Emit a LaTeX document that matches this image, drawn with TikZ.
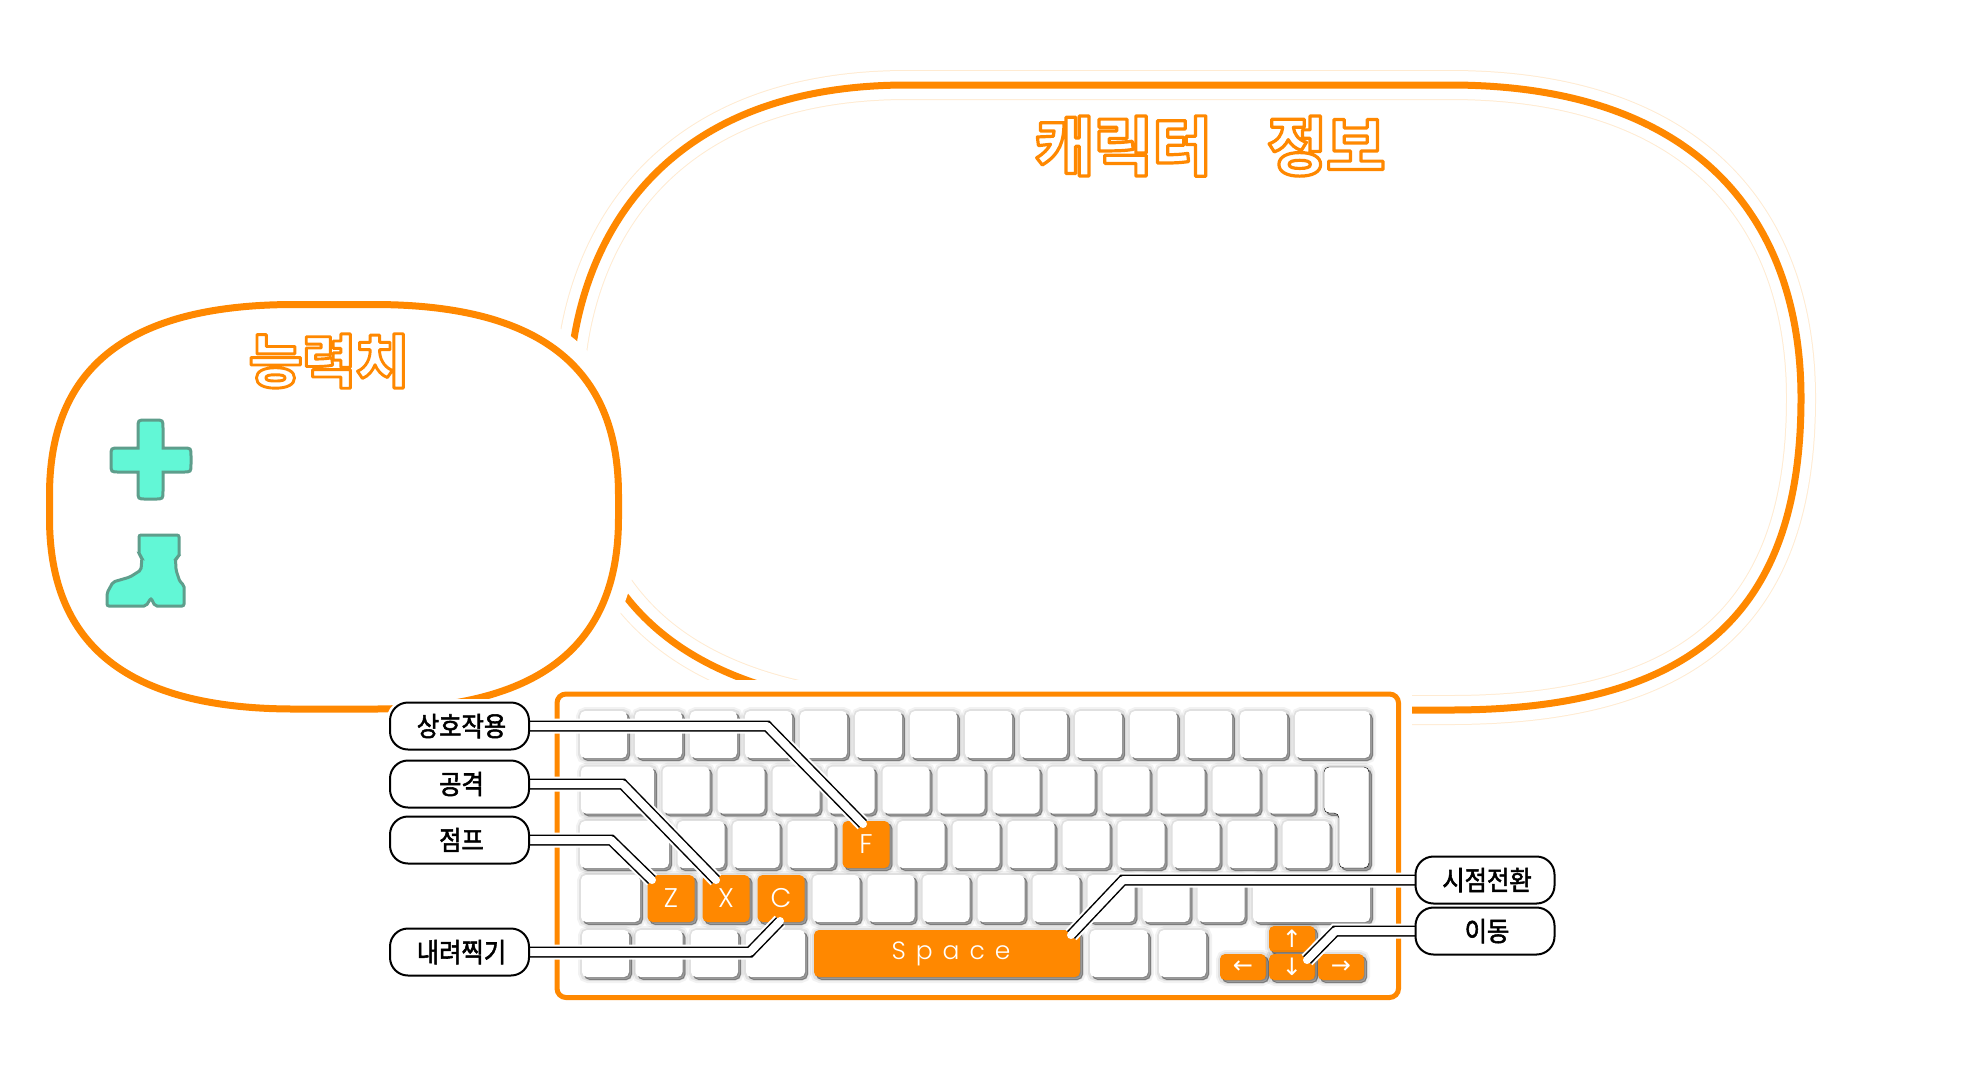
\documentclass[tikz,border=0pt]{standalone}
\usepackage{fontspec}
\usepackage{xcolor}
\usetikzlibrary{shadows}
\setmainfont{Poppins Light}
\newfontfamily\korfont[FakeStretch=0.9,FakeBold=2]{Noto Sans CJK KR}
\newfontfamily\korstroke[BoldFeatures={FakeBold=5}]{Noto Sans CJK KR}
\newfontfamily\arrowfont{DejaVu Sans}
\definecolor{keyorange}{HTML}{FF8800}
\definecolor{palehalo}{HTML}{FFEBD2}
\definecolor{iconfill}{HTML}{62F7D6}
\definecolor{iconline}{HTML}{5E9E8C}
\newcommand{\strokedtext}[1]{{\korstroke\bfseries\color{white}\special{pdf:code 1 0.533 0 RG 1 j}#1}}
\pgfdeclarelayer{linklayer}
\pgfdeclarelayer{taglayer}
\pgfsetlayers{main,linklayer,taglayer}
\tikzset{
    bigline/.style={keyorange, line width=7pt, preaction={draw=palehalo, line width=30pt}, preaction={draw=white, line width=28pt}},
    smallline/.style={draw=keyorange, fill=white, line width=7pt, preaction={draw=white, line width=40pt}},
    keyshade/.style={
        general shadow={shadow xshift=1pt, shadow yshift=-1pt, fill=black, draw=black, line width=10pt, opacity=.05},
        general shadow={shadow xshift=1pt, shadow yshift=-1pt, fill=black, draw=black, line width=6pt, opacity=.07},
        general shadow={shadow xshift=2.5pt, shadow yshift=-2.5pt, fill=black, draw=black, line width=1pt, opacity=.3}},
    keycap/.style={keyshade, fill=white, rounded corners=5pt, inner sep=0pt, outer sep=0pt, minimum width=47pt, minimum height=47pt},
    hotkey/.style={keycap, fill=keyorange, text=white, font=\fontsize{27}{27}\selectfont},
    arrowkey/.style={hotkey, minimum width=46pt, minimum height=26pt, font=\arrowfont\fontsize{24}{24}\selectfont},
    tag/.style={draw=black, fill=white, line width=2pt, rounded corners=18pt, inner sep=0pt, outer sep=0pt, minimum width=139pt, minimum height=47pt, text depth=2pt, font=\korfont\fontsize{27}{27}\selectfont},
    calline/.style={draw=white, line width=8pt, line cap=round, line join=round, preaction={draw=white, line width=15pt}, preaction={draw=black, line width=11pt}},
    icon/.style={draw=iconline, fill=iconfill, line width=3pt}
}
\begin{document}
\begin{tikzpicture}[x=1pt, y=-1pt]
    \useasboundingbox (0,0) rectangle (1980,1080);

    % Big panel, cut by the white area of the keyboard
    \draw[bigline] (907,85) -- (1450,85) .. controls (1700,85) and (1801,222) .. (1801,398) .. controls (1801,607) and (1700,710) .. (1450,710) -- (950,710) .. controls (658,710) and (569,581) .. (569,400) .. controls (569,260) and (646,85) .. (907,85) -- cycle;
    \fill[white] (540,680) rectangle (1412,1010);
    \node[font=\fontsize{64}{64}\selectfont] (infotitle) at (1210,146) {\strokedtext{캐릭터\hspace{56pt}정보}};

    % Small panel
    \draw[smallline] (294.5,304.5) -- (373.5,304.5) .. controls (549.5,304.5) and (618.5,375) .. (618.5,495) -- (618.5,518) .. controls (618.5,638) and (549.5,709) .. (373.5,709) -- (294.5,709) .. controls (118.5,709) and (49.5,638) .. (49.5,518) -- (49.5,495) .. controls (49.5,375) and (118.5,304.5) .. (294.5,304.5) -- cycle;
    \node[font=\fontsize{58}{58}\selectfont] (stattitle) at (329,361) {\strokedtext{능력치}};

    % Icons
    \draw[icon] (138,448) -- (138,428) .. controls (138,420) .. (146,420) -- (155,420) .. controls (163,420) .. (163,428) -- (163,448) -- (183,448) .. controls (191,448) .. (191,456) -- (191,464) .. controls (191,472) .. (183,472) -- (163,472) -- (163,491) .. controls (163,499) .. (155,499) -- (146,499) .. controls (138,499) .. (138,491) -- (138,472) -- (119,472) .. controls (111,472) .. (111,464) -- (111,456) .. controls (111,448) .. (119,448) -- cycle;
    \draw[icon, rounded corners=2pt] (139,535) -- (179,535) -- (179,557) -- (175.5,558) -- (176,570) -- (180,582) -- (184,585) -- (184,606) -- (155,606) -- (151,598) -- (146,606) -- (107,606) -- (107,593) -- (113,582) -- (130,577) -- (141,570) -- (142,557) -- (139,555) -- cycle;

    % Keyboard frame
    \draw[draw=keyorange, fill=white, line width=5pt, rounded corners=9pt] (557,694) rectangle (1398.5,997.5);

    % Row 1
    \foreach \i in {0,...,12} \node[keycap] (keyA\i) at ({603.5+55*\i},734.5) {};
    \node[keycap, minimum width=75pt] (keyAwide) at (1332.5,734.5) {};
    % Row 2
    \node[keycap, minimum width=73pt] (keyBwide) at (617.5,790) {};
    \foreach \i in {0,...,11} \node[keycap] (keyB\i) at ({686+55*\i},790) {};
    \draw[keycap] (1324,767) -- (1369,767) -- (1369,868) -- (1339,868) -- (1339,813) -- (1324,813) -- cycle;
    % Row 3
    \node[keycap, minimum width=89pt] (keyCwide) at (624.5,844.5) {};
    \foreach \i in {0,1,2,4,5,6,7,8,9,10,11} \node[keycap] (keyC\i) at ({701+55*\i},844.5) {};
    \node[hotkey] (keyF) at (866,844.5) {F};
    % Row 4
    \node[keycap, minimum width=59pt] (keyDwide) at (610.5,898.5) {};
    \node[hotkey] (keyZ) at (671,898.5) {Z};
    \node[hotkey] (keyX) at (726,898.5) {X};
    \node[hotkey] (keyC) at (781,898.5) {C};
    \foreach \i in {0,...,7} \node[keycap] (keyD\i) at ({836+55*\i},898.5) {};
    \node[keycap, minimum width=117pt] (keyDend) at (1311.5,898.5) {};
    % Row 5
    \node[keycap] (keyE0) at (605.5,953.5) {};
    \node[keycap] (keyE1) at (659,953.5) {};
    \node[keycap] (keyE2) at (714.5,953.5) {};
    \node[keycap, minimum width=59pt] (keyE3) at (775.5,953.5) {};
    \node[hotkey, minimum width=266pt, font=\fontsize{25}{25}\selectfont\addfontfeature{LetterSpace=40}] (keySpace) at (947,953.5) {\hspace{8pt}Space};
    \node[keycap, minimum width=58pt] (keyE4) at (1119,953.5) {};
    \node[keycap] (keyE5) at (1182.5,953.5) {};
    % Arrows
    \node[arrowkey] (keyUp) at (1292,939) {↑};
    \node[arrowkey] (keyLeft) at (1243,967) {←};
    \node[arrowkey] (keyDown) at (1292,967) {↓};
    \node[arrowkey] (keyRight) at (1341,967) {→};

    % Labels
    \begin{pgfonlayer}{taglayer}
        \node[tag] (tagF) at (459.5,726) {\hspace{4pt}상호작용};
        \node[tag] (tagX) at (459.5,784) {\hspace{4pt}공격};
        \node[tag] (tagZ) at (459.5,840) {\hspace{4pt}점프};
        \node[tag] (tagC) at (459.5,952) {\hspace{4pt}내려찍기};
        \node[tag] (tagView) at (1485,880) {\hspace{4pt}시점전환};
        \node[tag] (tagMove) at (1485,931) {\hspace{4pt}이동};
    \end{pgfonlayer}
    \foreach \t in {tagF,tagX,tagZ,tagC,tagView,tagMove}
        \draw[white, line width=7pt, rounded corners=18pt] (\t.south west) rectangle (\t.north east);

    % Free ends of the lines
    \coordinate (bendF) at (767,726);
    \coordinate (endF) at (863,824);
    \coordinate (bendX) at (622.5,784);
    \coordinate (endX) at (716,880);
    \coordinate (bendZ) at (611,840);
    \coordinate (endZ) at (652,880);
    \coordinate (bendC) at (750,952);
    \coordinate (endC) at (780,921);
    \coordinate (bendView) at (1123,880);
    \coordinate (endView) at (1071,935);
    \coordinate (bendMove) at (1335.5,931);
    \coordinate (endMove) at (1307,960);

    \begin{pgfonlayer}{linklayer}
        \draw[calline] (tagF.east) -- (bendF) -- (endF);
        \draw[calline] (tagX.east) -- (bendX) -- (endX);
        \draw[calline] (tagZ.east) -- (bendZ) -- (endZ);
        \draw[calline] (tagC.east) -- (bendC) -- (endC);
        \draw[calline] (tagView.west) -- (bendView) -- (endView);
        \draw[calline] (tagMove.west) -- (bendMove) -- (endMove);
    \end{pgfonlayer}
\end{tikzpicture}
\end{document}
